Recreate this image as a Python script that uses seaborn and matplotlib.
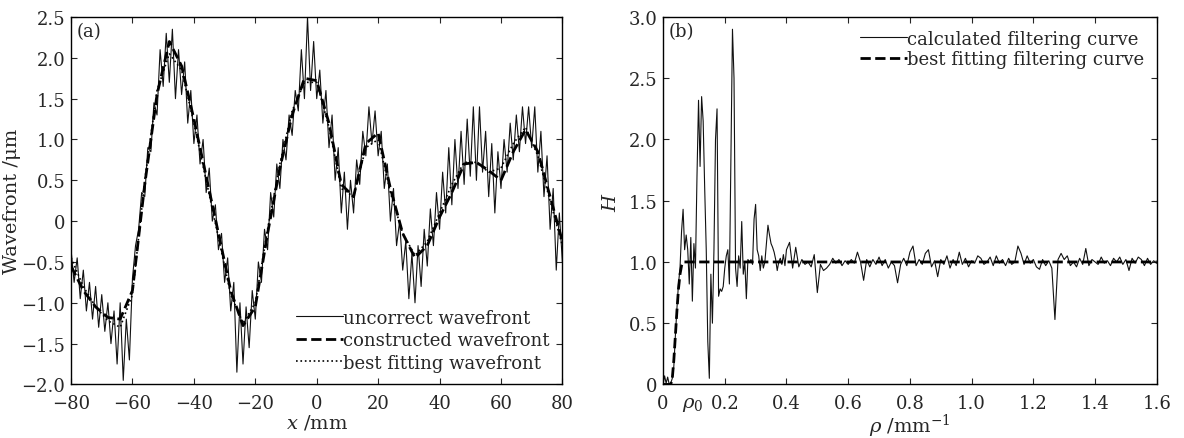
import numpy as np
import pandas as pd
import matplotlib
matplotlib.use("Agg")
import matplotlib.pyplot as plt
import matplotlib.transforms as mtransforms
from matplotlib.ticker import FuncFormatter
import seaborn as sns

# ---- panel (a): wavefronts ----
x_noisy = np.arange(-80, 81, 1)
w_uncorrect = [
    -0.35, -0.75, -0.45, -0.95, -0.60, -1.10, -0.75, -1.20, -0.80, -1.30,
    -0.90, -1.35, -1.00, -1.50, -1.10, -1.75, -1.00, -1.95, -1.20, -1.70,
    -0.70, -0.30, -0.10, 0.35, 0.30, 0.90, 0.85, 1.45, 1.30, 2.10,
    1.65, 2.30, 1.70, 2.35, 1.50, 2.10, 1.55, 1.95, 1.20, 1.60,
    0.95, 1.30, 0.70, 1.00, 0.35, 0.65, 0.00, 0.20, -0.35, -0.15,
    -0.75, -0.45, -1.10, -0.75, -1.85, -1.00, -1.75, -1.05, -1.55, -0.85,
    -1.20, -0.50, -0.75, -0.10, -0.35, 0.35, 0.05, 0.70, 0.40, 1.00,
    0.75, 1.30, 1.05, 1.60, 1.35, 2.10, 1.50, 2.50, 1.60, 2.20,
    1.50, 1.85, 1.20, 1.60, 0.90, 1.30, 0.50, 0.90, 0.10, 0.60,
    -0.10, 0.50, 0.10, 0.75, 0.45, 1.10, 0.80, 1.40, 0.95, 1.35,
    0.80, 1.10, 0.40, 0.70, 0.00, 0.40, -0.30, 0.00, -0.60, -0.25,
    -0.95, -0.40, -1.00, -0.30, -0.80, -0.10, -0.55, 0.15, -0.30, 0.35,
    -0.10, 0.60, 0.10, 0.90, 0.20, 1.00, 0.40, 1.10, 0.45, 1.25,
    0.55, 1.40, 0.50, 1.40, 0.60, 1.10, 0.30, 0.95, 0.10, 0.85,
    0.40, 1.00, 0.60, 1.20, 0.75, 1.30, 0.85, 1.40, 0.95, 1.40,
    0.90, 1.40, 0.60, 1.10, 0.30, 0.80, -0.10, 0.40, -0.60, 0.10,
    -0.50,
]

x_smooth = np.arange(-80, 81, 4)
w_constructed = [
    -0.55, -0.85, -1.05, -1.18, -1.20, -0.85, 0.45, 1.55, 2.20, 1.90,
    1.25, 0.55, -0.15, -0.85, -1.28, -1.05, -0.15, 0.65, 1.30, 1.75,
    1.72, 1.20, 0.45, 0.30, 0.95, 1.08, 0.40, -0.15, -0.45, -0.30,
    0.05, 0.35, 0.70, 0.72, 0.62, 0.50, 0.85, 1.12, 0.85, 0.30,
    -0.25,
]
w_best = [
    -0.45, -0.80, -1.05, -1.22, -1.30, -0.90, 0.50, 1.60, 2.05, 1.85,
    1.20, 0.50, -0.20, -0.90, -1.25, -1.00, -0.10, 0.70, 1.35, 1.70,
    1.70, 1.15, 0.40, 0.30, 0.90, 1.00, 0.35, -0.15, -0.42, -0.25,
    0.10, 0.45, 0.72, 0.72, 0.60, 0.65, 0.95, 1.15, 0.80, 0.25,
    -0.30,
]

# ---- panel (b): filtering curves ----
rho_fine = np.linspace(0.0, 0.395, 80)
h_fine = [
    0.00, 0.07, 0.01, 0.06, 0.00, 0.01, 0.05, 0.15, 0.40, 0.62,
    0.82, 0.95, 1.25, 1.43, 1.10, 1.22, 1.10, 0.82, 1.20, 0.68,
    1.15, 0.95, 1.70, 2.32, 1.78, 2.35, 2.15, 1.60, 1.10, 0.35,
    0.05, 0.90, 0.50, 1.10, 2.00, 2.25, 0.72, 0.78, 0.76, 0.80,
    0.95, 1.05, 1.10, 0.82, 1.85, 2.90, 2.50, 0.95, 0.80, 1.05,
    0.95, 1.33, 0.90, 1.00, 0.70, 1.02, 1.00, 1.02, 0.98, 1.35,
    1.47, 1.10, 1.05, 0.93, 1.05, 0.95, 1.00, 1.15, 1.30, 1.22,
    1.15, 1.12, 1.08, 1.02, 0.93, 1.00, 1.03, 0.98, 1.06, 0.97,
]
rho_coarse = np.linspace(0.40, 1.60, 121)
h_coarse = [
    1.10, 1.16, 0.95, 1.12, 0.96, 1.02, 0.98, 1.00, 0.96, 1.06,
    0.75, 0.98, 0.93, 0.95, 0.98, 1.03, 0.99, 1.02, 0.97, 1.01,
    0.98, 1.02, 0.99, 1.08, 1.00, 0.85, 1.02, 0.96, 1.02, 0.98,
    1.04, 0.97, 1.02, 0.95, 1.00, 0.97, 0.83, 0.98, 1.03, 0.97,
    1.08, 1.13, 0.97, 1.02, 0.98, 1.07, 1.10, 0.96, 1.01, 0.88,
    1.02, 0.98, 1.05, 0.95, 1.02, 0.97, 1.08, 0.98, 1.03, 0.96,
    1.01, 0.99, 1.05, 1.03, 0.98, 1.00, 1.04, 0.97, 1.05, 0.99,
    1.02, 0.97, 1.03, 0.98, 1.00, 1.13, 1.07, 0.98, 1.05, 0.99,
    1.02, 0.96, 0.94, 1.02, 0.97, 1.01, 0.95, 0.53, 1.02, 1.07,
    1.02, 1.05, 0.97, 1.00, 0.96, 1.03, 0.98, 1.11, 0.97, 1.02,
    1.00, 0.98, 1.04, 0.99, 1.01, 0.97, 1.03, 1.00, 1.04, 0.98,
    1.02, 0.93, 1.03, 0.99, 1.04, 1.02, 0.97, 1.03, 0.98, 1.01,
    0.99,
]
rho_fit = [0.0, 0.025, 0.030, 0.035, 0.040, 0.045, 0.050, 0.055, 0.060, 0.065, 0.070, 1.60]
h_fit = [0.0, 0.0, 0.05, 0.20, 0.40, 0.60, 0.78, 0.90, 0.97, 1.00, 1.00, 1.00]

df_a = pd.DataFrame({"x": x_noisy, "w": w_uncorrect})
df_a_s = pd.DataFrame({"x": x_smooth, "c": w_constructed, "b": w_best})
df_b = pd.DataFrame({"rho": np.concatenate([rho_fine, rho_coarse]),
                     "h": h_fine + h_coarse})
df_b_fit = pd.DataFrame({"rho": rho_fit, "h": h_fit})

sns.set_style("ticks")
plt.rcParams["font.family"] = ["DejaVu Serif"]
plt.rcParams["mathtext.fontset"] = "dejavuserif"
plt.rcParams["axes.unicode_minus"] = True

fs = 13
fig = plt.figure(figsize=(11.84, 4.39), dpi=100)
ax1 = fig.add_axes([0.060, 0.122, 0.415, 0.837])
ax2 = fig.add_axes([0.560, 0.122, 0.417, 0.837])


def fmt(v, pos):
    if abs(v) < 1e-9:
        return "0"
    return f"{v:.1f}".replace("-", "\u2212")


# Panel (a)
sns.lineplot(data=df_a, x="x", y="w", ax=ax1, color="#111111", lw=0.8,
             label="uncorrect wavefront")
sns.lineplot(data=df_a_s, x="x", y="c", ax=ax1, color="black", lw=2.0,
             linestyle="--", label="constructed wavefront")
sns.lineplot(data=df_a_s, x="x", y="b", ax=ax1, color="black", lw=1.2,
             linestyle=":", label="best fitting wavefront")
ax1.set_xlim(-80, 80)
ax1.set_ylim(-2.0, 2.5)
ax1.set_xticks(np.arange(-80, 81, 20))
ax1.set_yticks(np.arange(-2.0, 2.51, 0.5))
ax1.yaxis.set_major_formatter(FuncFormatter(fmt))
ax1.set_xlabel(r"$x$ /mm", fontsize=fs + 1, labelpad=0)
ax1.set_ylabel("Wavefront /\u03bcm", fontsize=fs + 1, labelpad=0)
ax1.text(0.012, 0.985, "(a)", transform=ax1.transAxes, fontsize=fs,
         ha="left", va="top")
ax1.legend(loc="lower right", frameon=False, fontsize=fs, handlelength=2.6,
           handletextpad=0.0, labelspacing=0.25, borderaxespad=0.3)

# Panel (b)
sns.lineplot(data=df_b, x="rho", y="h", ax=ax2, color="#111111", lw=0.8,
             label="calculated filtering curve")
sns.lineplot(data=df_b_fit, x="rho", y="h", ax=ax2, color="black", lw=2.0,
             linestyle="--", label="best fitting filtering curve")
ax2.set_xlim(0, 1.6)
ax2.set_ylim(0, 3.0)
ax2.set_xticks(np.arange(0, 1.61, 0.2))
ax2.set_yticks(np.arange(0, 3.01, 0.5))
ax2.xaxis.set_major_formatter(FuncFormatter(fmt))
ax2.yaxis.set_major_formatter(FuncFormatter(fmt))
ax2.set_xlabel(r"$\rho$ /mm$^{-1}$", fontsize=fs + 1, labelpad=0)
ax2.set_ylabel(r"$H$", fontsize=fs + 1, labelpad=6)
ax2.text(0.012, 0.985, "(b)", transform=ax2.transAxes, fontsize=fs,
         ha="left", va="top")
trans = mtransforms.blended_transform_factory(ax2.transData, ax2.transAxes)
ax2.text(0.095, -0.03, r"$\rho_0$", transform=trans, fontsize=fs + 1,
         ha="center", va="top")
ax2.legend(loc="upper right", frameon=False, fontsize=fs, handlelength=2.6,
           handletextpad=0.0, labelspacing=0.15, borderaxespad=0.3)

for ax in (ax1, ax2):
    ax.tick_params(direction="in", top=True, right=True, length=4,
                   width=0.8, labelsize=fs)
    ax.tick_params(axis="x", pad=7)
    ax.tick_params(axis="y", pad=4)
    for s in ax.spines.values():
        s.set_linewidth(1.0)
        s.set_color("black")

fig.savefig("out.png", dpi=100)
